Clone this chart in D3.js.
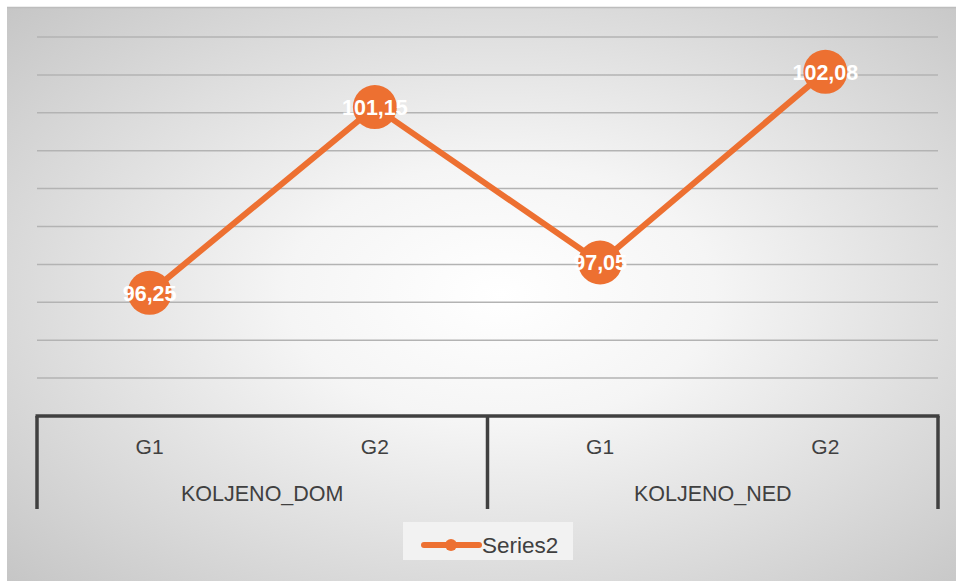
<!DOCTYPE html>
<html lang="en">
<head>
  <meta charset="utf-8">
  <title>Series2</title>
  <script src="https://d3js.org/d3.v7.min.js"></script>
  <style>
    body { margin: 0; background: #fff; }
    text { font-family: "Liberation Sans", Arial, sans-serif; }
  </style>
</head>
<body>
<script>
  // data
  const groups = ["KOLJENO_DOM", "KOLJENO_NED"];
  const subCats = ["G1", "G2", "G1", "G2"];
  const values = [96.25, 101.15, 97.05, 102.08];
  const valueLabels = ["96,25", "101,15", "97,05", "102,08"];
  const gridTicks = [93, 94, 95, 96, 97, 98, 99, 100, 101, 102, 103];

  const width = 956, height = 581;
  const orange = "#ED7031";
  const svg = d3.select("body").append("svg")
      .attr("width", width)
      .attr("height", height);

  const defs = svg.append("defs");
  const grad = defs.append("radialGradient")
      .attr("id", "bg")
      .attr("cx", "52%").attr("cy", "50%").attr("r", "75%");
  grad.append("stop").attr("offset", "0%").attr("stop-color", "#ffffff");
  grad.append("stop").attr("offset", "30%").attr("stop-color", "#f5f5f5");
  grad.append("stop").attr("offset", "100%").attr("stop-color", "#c3c3c3");

  svg.append("rect")
      .attr("x", 7).attr("y", 7)
      .attr("width", width - 7).attr("height", height - 7)
      .attr("fill", "url(#bg)");
  svg.append("line")
      .attr("x1", 7).attr("x2", width).attr("y1", 7.5).attr("y2", 7.5)
      .attr("stroke", "#bdbdbd").attr("stroke-width", 1.5);

  const plot = { left: 37, right: 938, top: 37, bottom: 416 };

  const x = d3.scaleBand()
      .domain(d3.range(values.length))
      .range([plot.left, plot.right]);
  const y = d3.scaleLinear()
      .domain([93, 103])
      .range([plot.bottom, plot.top]);

  // horizontal gridlines
  svg.append("g")
    .selectAll("line")
    .data(gridTicks.slice(1))
    .join("line")
      .attr("x1", plot.left).attr("x2", plot.right)
      .attr("y1", d => y(d)).attr("y2", d => y(d))
      .attr("stroke", "#b3b3b3")
      .attr("stroke-width", 1.5);

  // category axis with group dividers
  const axisColor = "#404040";
  const xAxis = svg.append("g");
  xAxis.append("line")
      .attr("x1", plot.left - 1.5).attr("x2", plot.right + 1.5)
      .attr("y1", plot.bottom).attr("y2", plot.bottom)
      .attr("stroke", axisColor).attr("stroke-width", 3.5);

  const groupEdges = [0, 2, 4].map(i => i < values.length ? x(i) : plot.right);
  xAxis.selectAll(".divider")
    .data(groupEdges)
    .join("line")
      .attr("class", "divider")
      .attr("x1", d => d).attr("x2", d => d)
      .attr("y1", plot.bottom).attr("y2", 509)
      .attr("stroke", axisColor).attr("stroke-width", 3.5);

  xAxis.selectAll(".sub")
    .data(subCats)
    .join("text")
      .attr("class", "sub")
      .attr("x", (d, i) => x(i) + x.bandwidth() / 2)
      .attr("y", 454)
      .attr("text-anchor", "middle")
      .attr("font-size", 21)
      .attr("fill", "#404040")
      .text(d => d);

  xAxis.selectAll(".grp")
    .data(groups)
    .join("text")
      .attr("class", "grp")
      .attr("x", (d, i) => (groupEdges[i] + groupEdges[i + 1]) / 2)
      .attr("y", 501)
      .attr("text-anchor", "middle")
      .attr("font-size", 21.5)
      .attr("fill", "#404040")
      .text(d => d);

  // series line + markers
  const line = d3.line()
      .x((d, i) => x(i) + x.bandwidth() / 2)
      .y(d => y(d));

  svg.append("path")
      .datum(values)
      .attr("d", line)
      .attr("fill", "none")
      .attr("stroke", orange)
      .attr("stroke-width", 6)
      .attr("stroke-linejoin", "round");

  svg.append("g")
    .selectAll("circle")
    .data(values)
    .join("circle")
      .attr("cx", (d, i) => x(i) + x.bandwidth() / 2)
      .attr("cy", d => y(d))
      .attr("r", 22)
      .attr("fill", orange);

  svg.append("g")
    .selectAll("text")
    .data(values)
    .join("text")
      .attr("x", (d, i) => x(i) + x.bandwidth() / 2)
      .attr("y", d => y(d))
      .attr("dy", "0.36em")
      .attr("text-anchor", "middle")
      .attr("font-size", 21.5)
      .attr("font-weight", "bold")
      .attr("fill", "#ffffff")
      .text((d, i) => valueLabels[i]);

  // legend
  const legend = svg.append("g");
  legend.append("rect")
      .attr("x", 403).attr("y", 522)
      .attr("width", 170).attr("height", 38)
      .attr("fill", "#f2f2f2");
  legend.append("line")
      .attr("x1", 424).attr("x2", 479)
      .attr("y1", 545).attr("y2", 545)
      .attr("stroke", orange).attr("stroke-width", 6)
      .attr("stroke-linecap", "round");
  legend.append("circle")
      .attr("cx", 451).attr("cy", 545).attr("r", 6)
      .attr("fill", orange);
  legend.append("text")
      .attr("x", 482).attr("y", 553)
      .attr("font-size", 22.5)
      .attr("fill", "#404040")
      .text("Series2");
</script>
</body>
</html>
